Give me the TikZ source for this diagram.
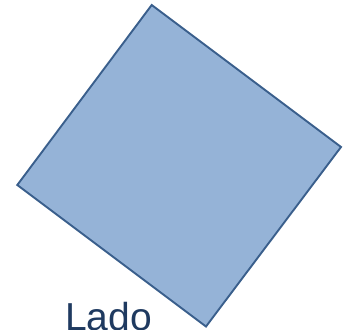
\documentclass[tikz,border=0pt]{standalone}
\usepackage{fontspec}
\setmainfont{Liberation Sans}
\usetikzlibrary{positioning}
\definecolor{sqfill}{HTML}{95B3D7}
\definecolor{sqline}{HTML}{3A5F8C}
\definecolor{labelblue}{HTML}{1F3A60}
\tikzset{
    sqshape/.style={draw=sqline, fill=sqfill, line width=1.9pt, line join=miter},
    sidelabel/.style={font=\fontsize{39}{39}\selectfont, text=labelblue, inner sep=0pt}
}
\begin{document}
\begin{tikzpicture}[x=1pt, y=-1pt]
\useasboundingbox (0,0) rectangle (350,329);
\coordinate (top) at (151.7,5);
\coordinate (right) at (341,147);
\coordinate (bottom) at (206,326.5);
\coordinate (left) at (17.3,185);
\draw[sqshape] (top) -- (right) -- (bottom) -- (left) -- cycle;
\node[sidelabel, anchor=base west] (lado) at (65,330) {Lado};
\end{tikzpicture}
\end{document}
